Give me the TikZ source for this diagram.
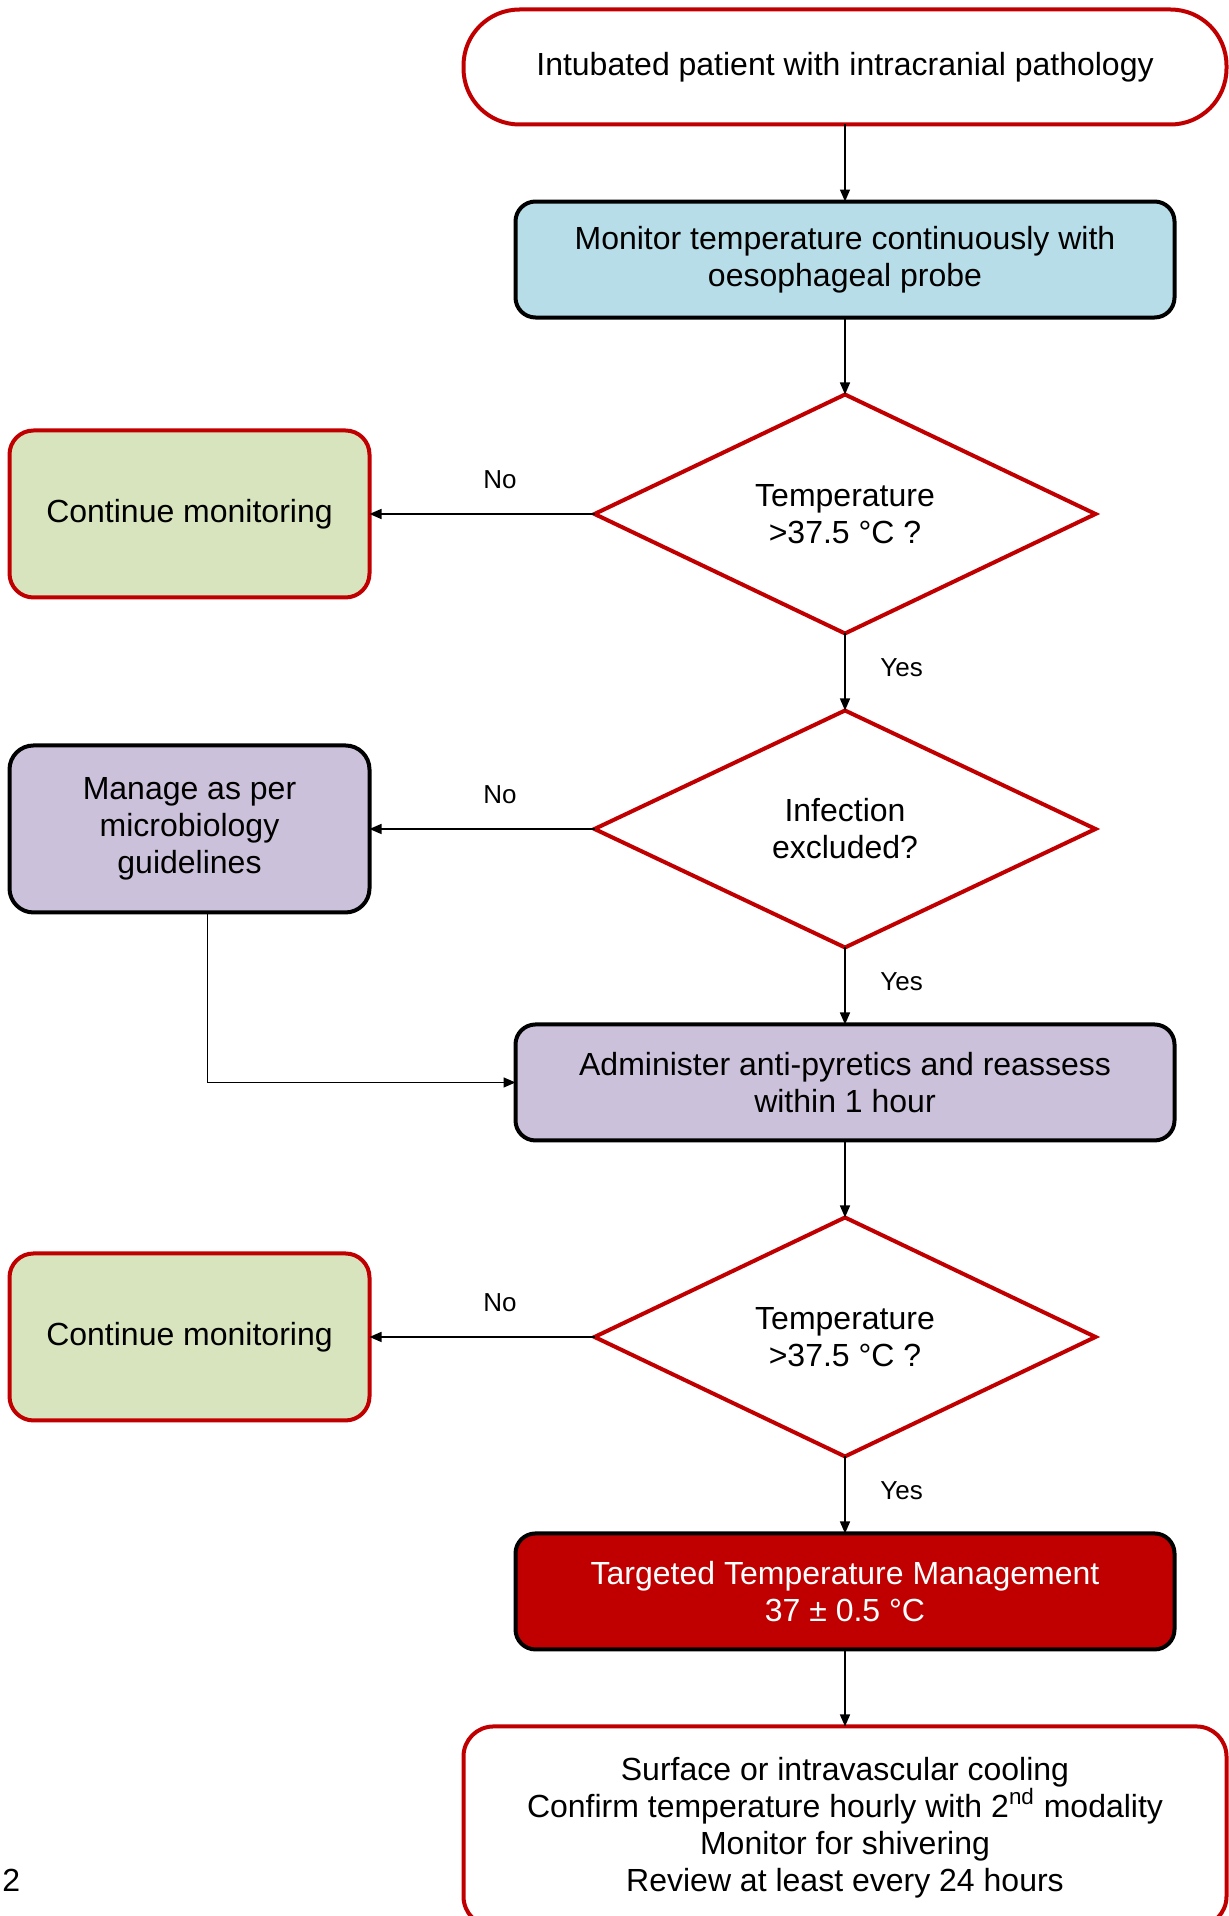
\documentclass[tikz,border=0pt]{standalone}
\usepackage{fontspec}
\setmainfont{Liberation Sans}
\usepackage{xcolor}
\usepackage{tikz}
\usetikzlibrary{arrows.meta,positioning,shapes.geometric}

\definecolor{darkred}{RGB}{192,0,0}
\definecolor{probeblue}{RGB}{183,221,232}
\definecolor{monitorgreen}{RGB}{215,228,189}
\definecolor{actionlilac}{RGB}{204,193,218}

\begin{document}
\begin{tikzpicture}[node distance=38.5pt, >={Triangle[length=6pt,width=5pt]},
    font=\fontsize{16}{18.5}\selectfont,
    terminal/.style={rectangle, draw=darkred, line width=2pt, outer sep=0pt, rounded corners=28pt, fill=white, minimum width=381.5pt, minimum height=57.5pt, align=center},
    process/.style={rectangle, draw=black, line width=2pt, outer sep=0pt, rounded corners=10pt, minimum width=329.5pt, minimum height=58pt, align=center},
    decision/.style={diamond, draw=darkred, line width=2pt, outer sep=0pt, fill=white, minimum width=250.5pt, minimum height=118.5pt, inner sep=0pt, align=center},
    sidebox/.style={rectangle, line width=2pt, outer sep=0pt, rounded corners=12pt, minimum width=180pt, minimum height=83.5pt, align=center},
    flow/.style={->, line width=0.75pt},
    answer/.style={font=\fontsize{13}{15}\selectfont}]
    \useasboundingbox (0,0) rectangle (614.5pt,-958pt);

    \node [terminal] (start) at (422.5pt,-33.5pt) {Intubated patient with intracranial pathology};
    \node [process, fill=probeblue, below=of start] (probe) {Monitor temperature continuously with\\oesophageal probe};
    \node [decision, below=of probe] (fever1) {Temperature\\>37.5 °C ?};
    \node [sidebox, draw=darkred, fill=monitorgreen, left=112.5pt of fever1] (watch1) {Continue monitoring};
    \node [decision, below=of fever1] (infection) {Infection\\excluded?};
    \node [sidebox, draw=black, fill=actionlilac, left=112.5pt of infection] (micro) {Manage as per\\microbiology\\guidelines};
    \node [process, fill=actionlilac, below=of infection] (antipyr) {Administer anti-pyretics and reassess\\within 1 hour};
    \node [decision, below=of antipyr] (fever2) {Temperature\\>37.5 °C ?};
    \node [sidebox, draw=darkred, fill=monitorgreen, left=112.5pt of fever2] (watch2) {Continue monitoring};
    \node [process, fill=darkred, text=white, below=of fever2] (ttm) {Targeted Temperature Management\\37 ± 0.5 °C};
    \node [terminal, rounded corners=15pt, minimum height=100pt, below=of ttm] (cooling) {};
    \node [anchor=north, inner sep=0pt, align=center] (coolingtext) at ([yshift=-15pt]cooling.north) {Surface or intravascular cooling\\Confirm temperature hourly with 2\textsuperscript{nd} modality\\Monitor for shivering\\Review at least every 24 hours};
    \node [anchor=west, inner sep=0pt] (pagenum) at (1pt,-940pt) {2};

    \draw [flow] (start) -- (probe);
    \draw [flow] (probe) -- (fever1);
    \draw [flow] (fever1) -- node [answer, pos=0.42, above=9pt] {No} (watch1);
    \draw [flow] (fever1) -- node [answer, right=14pt, yshift=2pt] {Yes} (infection);
    \draw [flow] (infection) -- node [answer, pos=0.42, above=9pt] {No} (micro);
    \draw [flow] (infection) -- node [answer, right=14pt, yshift=2pt] {Yes} (antipyr);
    \draw [flow] ([xshift=9pt]micro.south) |- (antipyr.west);
    \draw [flow] (antipyr) -- (fever2);
    \draw [flow] (fever2) -- node [answer, pos=0.42, above=9pt] {No} (watch2);
    \draw [flow] (fever2) -- node [answer, right=14pt, yshift=2pt] {Yes} (ttm);
    \draw [flow] (ttm) -- (cooling);
\end{tikzpicture}
\end{document}
